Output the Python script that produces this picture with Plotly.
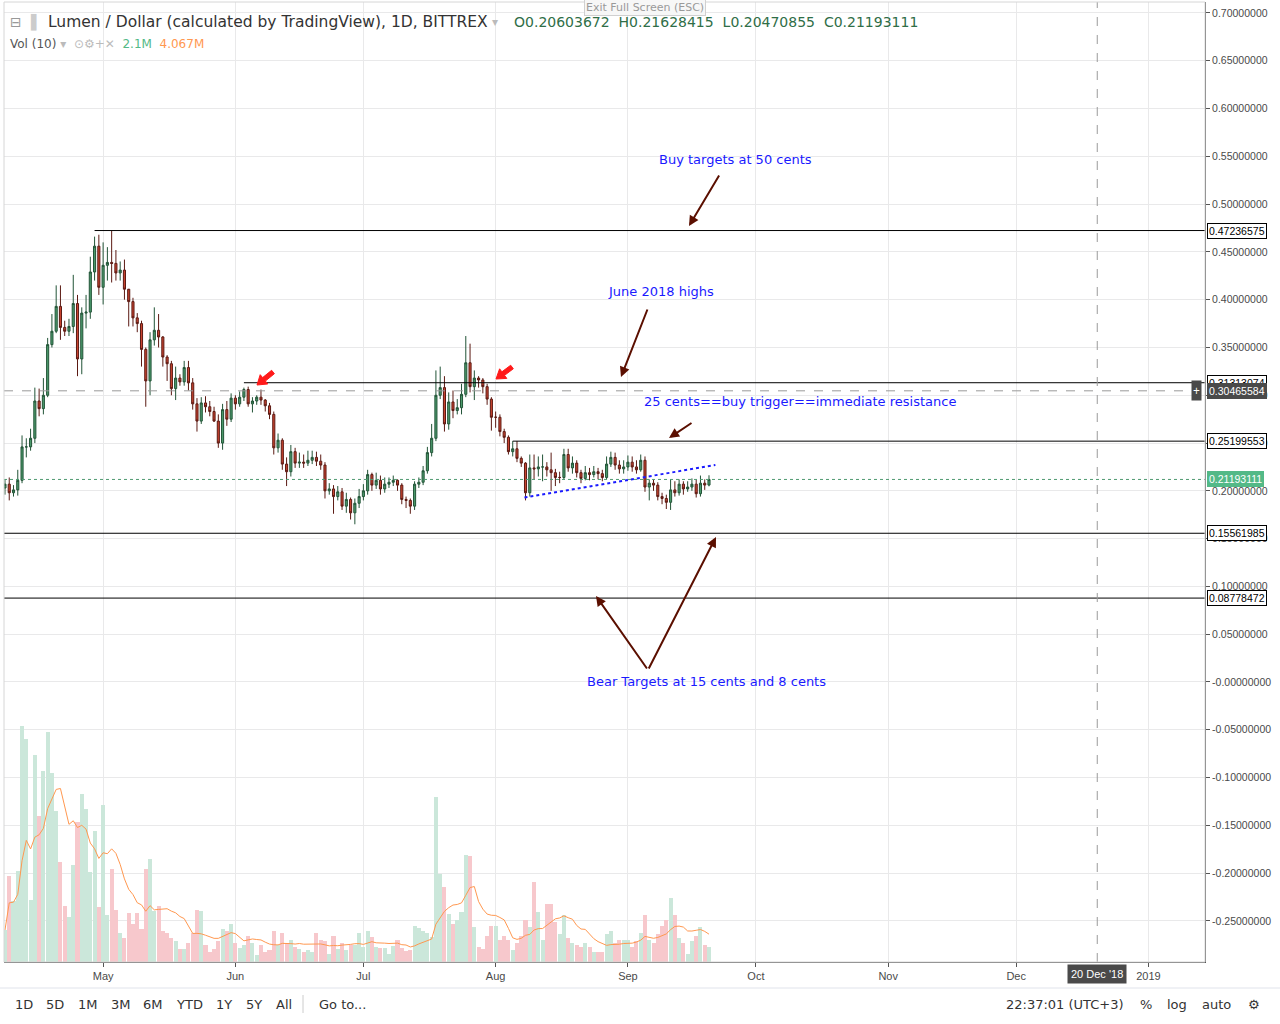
import plotly.graph_objects as go
import pandas as pd
import numpy as np

start_date = "2018-04-08"
closes = [0.207,0.198,0.201,0.211,0.246,0.246,0.255,0.294,0.286,0.300,
0.353,0.367,0.393,0.371,0.367,0.372,0.396,0.338,0.386,0.387,
0.429,0.456,0.413,0.436,0.439,0.438,0.428,0.431,0.411,0.398,
0.381,0.375,0.348,0.315,0.358,0.368,0.361,0.340,0.333,0.307,
0.318,0.314,0.329,0.313,0.291,0.273,0.292,0.288,0.283,0.273,
0.250,0.285,0.275,0.297,0.291,0.298,0.306,0.291,0.294,0.298,
0.295,0.289,0.280,0.245,0.253,0.228,0.220,0.241,0.229,0.230,
0.229,0.232,0.235,0.231,0.227,0.200,0.202,0.194,0.199,0.184,
0.191,0.177,0.187,0.194,0.200,0.217,0.206,0.211,0.202,0.207,
0.209,0.211,0.206,0.191,0.190,0.184,0.207,0.209,0.221,0.240,
0.255,0.300,0.308,0.270,0.293,0.284,0.287,0.301,0.334,0.309,
0.318,0.316,0.309,0.296,0.277,0.277,0.262,0.256,0.241,0.244,
0.234,0.229,0.198,0.224,0.223,0.225,0.225,0.222,0.219,0.214,
0.214,0.238,0.224,0.229,0.219,0.213,0.219,0.217,0.220,0.218,
0.214,0.228,0.235,0.227,0.223,0.225,0.230,0.225,0.222,0.232,
0.204,0.208,0.206,0.194,0.192,0.188,0.201,0.198,0.207,0.202,
0.204,0.207,0.197,0.208,0.20603672,0.21193111]
first_open = 0.203
highs = [0.212,0.214,0.206,0.222,0.258,0.255,0.265,0.308,0.307,0.318,
0.360,0.385,0.415,0.415,0.378,0.380,0.426,0.405,0.392,0.405,
0.445,0.466,0.468,0.460,0.455,0.472,0.452,0.440,0.442,0.410,
0.402,0.386,0.378,0.350,0.366,0.392,0.385,0.362,0.342,0.336,
0.330,0.322,0.336,0.336,0.318,0.297,0.298,0.299,0.294,0.288,
0.280,0.291,0.294,0.302,0.300,0.304,0.308,0.309,0.298,0.300,
0.306,0.296,0.292,0.283,0.260,0.255,0.235,0.248,0.245,0.240,
0.238,0.242,0.242,0.241,0.238,0.230,0.208,0.206,0.205,0.203,
0.198,0.193,0.192,0.202,0.207,0.222,0.219,0.219,0.216,0.214,
0.214,0.216,0.212,0.208,0.194,0.192,0.210,0.214,0.226,0.246,
0.270,0.326,0.330,0.320,0.303,0.305,0.296,0.312,0.362,0.354,
0.326,0.320,0.318,0.312,0.298,0.283,0.280,0.265,0.258,0.252,
0.252,0.236,0.230,0.238,0.238,0.236,0.238,0.230,0.240,0.223,
0.220,0.244,0.244,0.236,0.232,0.222,0.226,0.224,0.226,0.224,
0.222,0.236,0.241,0.240,0.232,0.232,0.237,0.236,0.232,0.238,
0.236,0.212,0.212,0.209,0.198,0.196,0.212,0.210,0.212,0.210,
0.210,0.213,0.212,0.216,0.212,0.21628415]
lows = [0.196,0.190,0.194,0.195,0.208,0.235,0.242,0.250,0.278,0.280,
0.298,0.350,0.365,0.358,0.362,0.362,0.365,0.320,0.322,0.370,
0.380,0.420,0.405,0.395,0.420,0.418,0.420,0.420,0.400,0.372,
0.372,0.366,0.330,0.288,0.300,0.352,0.350,0.330,0.315,0.300,
0.295,0.310,0.310,0.305,0.285,0.262,0.270,0.282,0.278,0.272,
0.245,0.243,0.268,0.272,0.285,0.288,0.294,0.288,0.282,0.290,
0.290,0.283,0.275,0.238,0.240,0.222,0.205,0.215,0.224,0.224,
0.224,0.226,0.228,0.226,0.222,0.192,0.196,0.176,0.190,0.180,
0.177,0.170,0.165,0.182,0.190,0.196,0.200,0.202,0.196,0.198,
0.203,0.205,0.200,0.186,0.182,0.176,0.180,0.203,0.206,0.218,
0.236,0.252,0.296,0.262,0.264,0.276,0.280,0.280,0.298,0.303,
0.295,0.308,0.302,0.290,0.263,0.266,0.257,0.250,0.238,0.236,
0.230,0.225,0.190,0.194,0.212,0.215,0.210,0.215,0.200,0.205,
0.208,0.212,0.220,0.218,0.214,0.208,0.211,0.211,0.214,0.212,
0.210,0.212,0.225,0.222,0.218,0.218,0.221,0.220,0.218,0.220,
0.199,0.190,0.200,0.190,0.186,0.181,0.180,0.194,0.195,0.196,
0.199,0.200,0.193,0.194,0.201,0.20470855]
volumes = [4.6,12.4,8.8,13.1,33.9,32.1,8.9,29.8,21.0,27.5,
33.0,27.1,21.7,14.4,8.1,6.4,14.0,20.1,24.2,22.0,
13.0,18.8,7.9,22.5,6.8,13.4,7.5,4.2,3.4,7.0,
5.4,7.1,4.8,13.4,14.8,7.4,8.1,4.4,4.2,3.5,
3.0,1.8,1.8,2.8,4.1,7.5,7.4,2.4,1.4,1.8,
3.0,4.7,4.4,5.5,2.7,2.0,2.5,3.8,2.7,1.0,
2.4,1.5,1.7,4.5,2.5,4.2,2.7,3.2,2.1,1.8,
1.4,1.7,1.5,4.1,3.2,3.0,1.2,3.7,1.8,2.7,
1.7,2.4,2.5,4.2,
2.1,4.5,3.6,2.1,2.0,2.0,1.2,2.3,3.1,2.0,
1.6,1.7,5.2,4.9,4.5,4.1,3.6,23.7,12.7,10.8,
6.9,5.5,6.0,7.2,15.4,15.2,5.1,2.1,1.8,3.7,
5.2,5.2,3.1,3.7,3.2,1.7,2.8,3.7,6.1,5.0,
11.5,7.2,3.2,8.4,8.4,5.8,4.0,6.8,3.4,2.8,
2.5,2.1,2.7,2.1,1.4,1.5,1.4,4.0,4.5,2.8,
3.1,3.1,3.1,2.2,3.0,4.2,6.8,3.1,2.7,4.0,
5.2,6.1,9.2,6.8,3.5,2.8,1.2,3.0,3.8,5.1,
2.5,2.1]

levels = [0.47236575, 0.31313074, 0.25199553, 0.15561985, 0.08778472]
level_starts = ["2018-04-29", "2018-06-03", "2018-08-05", "2018-04-07", "2018-04-07"]
crosshair_value = 0.30465584
crosshair_date = "2018-12-20"
month_ticks = ["2018-05-01","2018-06-01","2018-07-01","2018-08-01","2018-09-01",
               "2018-10-01","2018-11-01","2018-12-01","2019-01-01"]
month_labels = ["May","Jun","Jul","Aug","Sep","Oct","Nov","Dec","2019"]
price_ticks = [round(0.7 - 0.05 * i, 2) for i in range(20)]

n = len(closes)
dates = pd.date_range(start_date, periods=n, freq="D")
opens = [first_open] + closes[:-1]
up = [c >= o for o, c in zip(opens, closes)]
vol_ma = pd.Series(volumes).rolling(10, min_periods=1).mean()

fig = go.Figure()
fig.add_trace(go.Bar(x=dates, y=volumes, yaxis="y",
                     marker=dict(color=["#cbe7da" if u else "#f7c8cc" for u in up], line_width=0),
                     width=86400000 * 0.95, hoverinfo="skip"))
fig.add_trace(go.Scatter(x=dates, y=vol_ma, yaxis="y", mode="lines",
                         line=dict(color="#ff9850", width=1), hoverinfo="skip"))
fig.add_trace(go.Candlestick(x=dates, open=opens, high=highs, low=lows, close=closes, yaxis="y2",
                             increasing=dict(line=dict(color="#225437", width=1), fillcolor="#4c9a6c"),
                             decreasing=dict(line=dict(color="#5b1a13", width=1), fillcolor="#c8432f"),
                             whiskerwidth=0))

W, H = 1280, 1024
L, R, T, B = 4, 75, 2, 62
pw, ph = W - L - R, H - T - B
def px(x): return (x - L) / pw
def py(y): return (H - B - y) / ph

x0 = pd.Timestamp("2018-04-07 18:30")
x1 = pd.Timestamp("2019-01-14 06:00")
shapes = []
for lv, st in zip(levels, level_starts):
    shapes.append(dict(type="line", xref="x", yref="y2", x0=st, x1=x1, y0=lv, y1=lv,
                       line=dict(color="#000000", width=1)))
shapes.append(dict(type="line", xref="x", yref="y2", x0=x0, x1=x1, y0=crosshair_value, y1=crosshair_value,
                   line=dict(color="#9a9a9a", width=1, dash="dash")))
shapes.append(dict(type="line", xref="x", yref="y2", x0=x0, x1=x1, y0=closes[-1], y1=closes[-1],
                   line=dict(color="#4f9a70", width=1, dash="dot")))
shapes.append(dict(type="line", xref="x", yref="paper", x0=crosshair_date, x1=crosshair_date, y0=0, y1=1,
                   line=dict(color="#9a9a9a", width=1, dash="dash")))
shapes.append(dict(type="line", xref="x", yref="y2", x0="2018-08-07 18:00", x1="2018-09-21 12:00",
                   y0=0.193, y1=0.227, line=dict(color="#1a1aff", width=2, dash="dot")))
shapes.append(dict(type="rect", xref="paper", yref="paper", x0=0, x1=1, y0=0, y1=1,
                   line=dict(color="#d6d6d6", width=1)))

def red_arrow(tx, ty, ex, ey):
    d = np.array([ex - tx, ey - ty], float); ln = np.hypot(*d); u = d / ln; nrm = np.array([-u[1], u[0]])
    tip = np.array([tx, ty], float); hb = tip + u * 9
    pts = [tip, hb + nrm * 6, hb + nrm * 2.2, tip + u * ln + nrm * 2.2, tip + u * ln - nrm * 2.2,
           hb - nrm * 2.2, hb - nrm * 6]
    path = "M " + " L ".join(f"{px(p[0])},{py(p[1])}" for p in pts) + " Z"
    shapes.append(dict(type="path", xref="paper", yref="paper", path=path,
                       fillcolor="#ff1a1a", line=dict(color="#ff1a1a", width=1)))
red_arrow(257, 385, 273, 372)
red_arrow(496, 379, 512, 367)

ann = []
blue = "#1a1aff"
def txt(s, x, y, color=blue, size=13, anchor="center"):
    ann.append(dict(text=s, x=x, y=y, xref="paper", yref="paper", showarrow=False,
                    font=dict(color=color, size=size, family="DejaVu Sans"), xanchor=anchor, yanchor="middle"))

txt("Buy targets at 50 cents", px(735), py(159))
txt("June 2018 highs", px(661), py(291))
txt("25 cents==buy trigger==immediate resistance", px(800), py(402))
txt("Bear Targets at 15 cents and 8 cents", px(706), py(681))

def arrow(hx, hy, tx, ty, color="#5b0f00", width=2, head=2, size=1):
    ann.append(dict(x=px(hx), y=py(hy), xref="paper", yref="paper", axref="pixel", ayref="pixel",
                    ax=tx - hx, ay=ty - hy, showarrow=True, arrowhead=head, arrowsize=size,
                    arrowwidth=width, arrowcolor=color, text=""))
arrow(689, 226, 720, 174)
arrow(621, 377, 648, 308)
arrow(669, 438, 693, 422)
arrow(596, 596, 648, 670)
arrow(716, 537, 648, 670)

lblfont = "Liberation Sans, Arial"
def axlabel(v, text, bg, fg, border):
    ann.append(dict(text=text, x=1, y=v, xref="paper", yref="y2", showarrow=False, xanchor="left",
                    yanchor="middle", bgcolor=bg, bordercolor=border, borderwidth=1, borderpad=1,
                    font=dict(color=fg, size=10.5, family=lblfont), xshift=2))
axlabel(levels[0], "0.47236575", "#ffffff", "#000000", "#000000")
axlabel(levels[1], "0.31313074", "#ffffff", "#000000", "#000000")
axlabel(crosshair_value, "0.30465584", "#4a4a4a", "#ffffff", "#4a4a4a")
axlabel(levels[2], "0.25199553", "#ffffff", "#000000", "#000000")
axlabel(closes[-1], "0.21193111", "#53b987", "#ffffff", "#53b987")
axlabel(levels[3], "0.15561985", "#ffffff", "#000000", "#000000")
axlabel(levels[4], "0.08778472", "#ffffff", "#000000", "#000000")
ann.append(dict(text="+", x=1, y=crosshair_value, xref="paper", yref="y2", showarrow=False,
                xanchor="right", yanchor="middle", bgcolor="#4a4a4a", font=dict(color="#fff", size=12),
                xshift=-3, borderpad=1))
ann.append(dict(text="20 Dec '18", x=crosshair_date, y=0, xref="x", yref="paper", showarrow=False,
                yanchor="top", yshift=-2, bgcolor="#4a4a4a", font=dict(color="#fff", size=11, family=lblfont),
                borderpad=3))

def ptxt(s, x, y, size, color="#333", family="DejaVu Sans", anchor="left", **kw):
    ann.append(dict(text=s, x=px(x), y=py(y), xref="paper", yref="paper", showarrow=False,
                    xanchor=anchor, yanchor="middle", font=dict(size=size, family=family, color=color), **kw))

ptxt("⊟", 8, 22, 14, color="#999")
ptxt("▌", 28, 22, 14, color="#ccc")
ptxt("Lumen / Dollar (calculated by TradingView), 1D, BITTREX", 46, 22, 15.5, color="#333")
ptxt("▾", 490, 22, 12, color="#bbb")
ptxt("O0.20603672  H0.21628415  L0.20470855  C0.21193111", 512, 22, 14, color="#2f6e47")
ptxt("<span style='color:#555'>Vol (10)</span> <span style='color:#bbb'>▾  ⊙⚙+✕</span>  "
     "<span style='color:#53b987'>2.1M</span>  <span style='color:#ff9850'>4.067M</span>", 8, 44, 12)
ptxt("Exit Full Screen (ESC)", 645, 8, 11, color="#9a9a9a", anchor="center",
     bgcolor="#f7f7f7", bordercolor="#d0d0d0", borderwidth=1)
for lab, x in [("1D", 24), ("5D", 55), ("1M", 88), ("3M", 121), ("6M", 153), ("YTD", 189), ("1Y", 224),
               ("5Y", 254), ("All", 284), ("Go to...", 342), ("22:37:01 (UTC+3)", 1065), ("%", 1146),
               ("log", 1177), ("auto", 1216), ("⚙", 1254)]:
    ptxt(lab, x, 1004, 13, anchor="center")
shapes.append(dict(type="line", xref="paper", yref="paper", x0=px(303), x1=px(303),
                   y0=py(995), y1=py(1013), line=dict(color="#ccc", width=1)))
shapes.append(dict(type="line", xref="paper", yref="paper", x0=px(0), x1=px(1280),
                   y0=py(988), y1=py(988), line=dict(color="#e0e3eb", width=1)))

fig.update_layout(
    width=W, height=H, margin=dict(l=L, r=R, t=T, b=B),
    paper_bgcolor="#ffffff", plot_bgcolor="#ffffff", showlegend=False,
    shapes=shapes, annotations=ann, bargap=0,
    xaxis=dict(range=[x0, x1], rangeslider=dict(visible=False), tickvals=month_ticks, ticktext=month_labels,
               showgrid=True, gridcolor="#e9e9ea", ticks="outside", ticklen=4, tickcolor="#555",
               showline=True, linecolor="#555", tickfont=dict(size=11, color="#4a4a4a", family=lblfont),
               zeroline=False),
    yaxis=dict(range=[0, 138], visible=False, fixedrange=True),
    yaxis2=dict(range=[-0.293, 0.7115], overlaying="y", side="right", tickvals=price_ticks,
                ticktext=["%.8f" % v for v in price_ticks], showgrid=True, gridcolor="#e9e9ea",
                ticks="outside", ticklen=4, tickcolor="#555", showline=True, linecolor="#555",
                tickfont=dict(size=10.5, color="#4a4a4a", family=lblfont),
                zeroline=False),
)
fig.write_html("out.html", config={"displayModeBar": False},
               post_script="document.body.style.margin='0';document.body.style.padding='0';")
